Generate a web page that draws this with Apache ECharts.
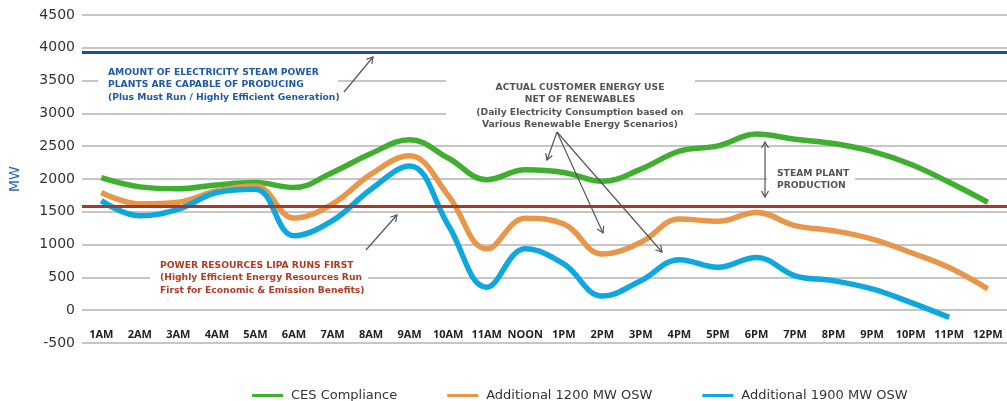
<!DOCTYPE html>
<html>
<head>
<meta charset="utf-8">
<script src="https://cdn.jsdelivr.net/npm/echarts@6/dist/echarts.min.js"></script>
<style>
    html, body { margin: 0; background: #fff; }
    #chart { width: 1007px; height: 401px; }
</style>
</head>
<body>
<div id="chart"></div>
<script>
// data (MW)
var hours = ['1AM', '2AM', '3AM', '4AM', '5AM', '6AM', '7AM', '8AM', '9AM', '10AM', '11AM', 'NOON',
    '1PM', '2PM', '3PM', '4PM', '5PM', '6PM', '7PM', '8PM', '9PM', '10PM', '11PM', '12PM'];
var cesCompliance = [2020, 1880, 1850, 1910, 1945, 1870, 2100, 2390, 2600, 2320, 1990, 2140,
    2100, 1965, 2150, 2425, 2505, 2685, 2605, 2540, 2420, 2225, 1950, 1645];
var osw1200 = [1795, 1620, 1645, 1820, 1895, 1405, 1620, 2075, 2355, 1750, 935, 1400,
    1315, 855, 1035, 1390, 1355, 1490, 1290, 1210, 1085, 880, 650, 325];
var osw1900 = [1670, 1440, 1540, 1795, 1845, 1135, 1365, 1845, 2200, 1300, 350, 935,
    705, 215, 450, 770, 655, 805, 525, 450, 325, 120, -110, null];
var seriesNames = ['CES Compliance', 'Additional 1200 MW OSW', 'Additional 1900 MW OSW'];
var steamCapacity = 3930;
var lipaRunsFirst = 1590;
var yMin = -500, yMax = 4500, yStep = 500;

var chart = echarts.init(document.getElementById('chart'));

// arrow helper for the annotation call-outs
function arrowHead(x1, y1, x2, y2, color) {
    var a = Math.atan2(y2 - y1, x2 - x1), len = 7, spread = Math.PI / 6;
    return {
        type: 'polyline', z: 20,
        shape: { points: [
            [x2 - len * Math.cos(a - spread), y2 - len * Math.sin(a - spread)],
            [x2, y2],
            [x2 - len * Math.cos(a + spread), y2 - len * Math.sin(a + spread)]
        ] },
        style: { stroke: color, lineWidth: 1.2, fill: null }
    };
}
function arrow(x1, y1, x2, y2, color, both) {
    var items = [
        { type: 'line', z: 20, shape: { x1: x1, y1: y1, x2: x2, y2: y2 }, style: { stroke: color, lineWidth: 1.2 } },
        arrowHead(x1, y1, x2, y2, color)
    ];
    if (both) items.push(arrowHead(x2, y2, x1, y1, color));
    return items;
}
// white box that breaks the grid lines, with the note text on it
function note(x, y, w, h, lines, color, textX) {
    var centered = textX !== undefined;
    return [
        { type: 'rect', z: 15, shape: { x: x, y: y, width: w, height: h }, style: { fill: '#fff' } },
        {
            type: 'text', z: 16,
            x: centered ? textX : x + 10, y: y + 3,
            style: {
                text: lines.join('\n'), fill: color, font: 'bold 9.2px "DejaVu Sans"',
                lineHeight: 12.5, align: centered ? 'center' : 'left', verticalAlign: 'top'
            }
        }
    ];
}

var annotations = [].concat(
    note(98, 63, 240, 40, ['AMOUNT OF ELECTRICITY STEAM POWER', 'PLANTS ARE CAPABLE OF PRODUCING',
        '(Plus Must Run / Highly Efficient Generation)'], '#1f5aa6'),
    arrow(344, 92, 373, 57, '#555'),
    note(150, 256, 218, 40, ['POWER RESOURCES LIPA RUNS FIRST', '(Highly Efficient Energy Resources Run',
        'First for Economic & Emission Benefits)'], '#b23b25'),
    arrow(366, 250, 397, 215, '#555'),
    note(446, 78, 249, 50, ['ACTUAL CUSTOMER ENERGY USE', 'NET OF RENEWABLES',
        '(Daily Electricity Consumption based on', 'Various Renewable Energy Scenarios)'], '#555', 580),
    arrow(557, 132, 547, 160, '#555'),
    arrow(557, 132, 603, 233, '#555'),
    arrow(557, 132, 662, 252, '#555'),
    note(767, 164, 88, 27, ['STEAM PLANT', 'PRODUCTION'], '#555'),
    arrow(765, 142, 765, 197, '#555', true)
);

var colors = ['#40ae2e', '#e8964a', '#0ea8df'];

chart.setOption({
    animation: false,
    color: colors,
    grid: { left: 81, top: 15, width: 930, height: 328 },
    legend: {
        left: 247, top: 384,
        icon: 'rect', itemWidth: 31, itemHeight: 3, itemGap: 50,
        textStyle: { fontFamily: 'DejaVu Sans', fontSize: 13, color: '#333', padding: [0, 0, 0, 3] },
        data: seriesNames
    },
    xAxis: {
        type: 'category',
        data: hours,
        boundaryGap: true,
        axisLine: { show: false },
        axisTick: { show: false },
        axisLabel: {
            inside: true, margin: 3, interval: 0,
            fontFamily: 'Open Sans', fontWeight: 'bold', fontSize: 11, color: '#222'
        }
    },
    yAxis: {
        type: 'value',
        min: yMin, max: yMax, interval: yStep,
        name: 'MW', nameLocation: 'middle', nameGap: 60, nameRotate: 90,
        nameTextStyle: { color: '#2a6ab5', fontFamily: 'DejaVu Sans', fontSize: 14 },
        axisLine: { show: false },
        axisTick: { show: false },
        axisLabel: {
            margin: 7, fontFamily: 'DejaVu Sans', fontSize: 14, color: '#333',
            formatter: function (v) { return String(v); }
        },
        splitLine: { lineStyle: { color: '#b3b3b3', width: 1.5 } }
    },
    series: [
        {
            name: seriesNames[0], type: 'line', data: cesCompliance,
            smooth: 0.4, showSymbol: false, lineStyle: { width: 5.5 }
        },
        {
            name: seriesNames[1], type: 'line', data: osw1200,
            smooth: 0.4, showSymbol: false, lineStyle: { width: 5.5 }
        },
        {
            name: seriesNames[2], type: 'line', data: osw1900,
            smooth: 0.4, showSymbol: false, lineStyle: { width: 5.5 }
        },
        {
            name: 'levels', type: 'line', data: [], z: 5,
            markLine: {
                silent: true, symbol: 'none', label: { show: false },
                data: [
                    { yAxis: steamCapacity, lineStyle: { color: '#1f4f9e', width: 3, type: 'solid' } },
                    { yAxis: lipaRunsFirst, lineStyle: { color: '#a8392a', width: 3, type: 'solid' } }
                ]
            }
        }
    ],
    graphic: annotations
});
</script>
</body>
</html>
